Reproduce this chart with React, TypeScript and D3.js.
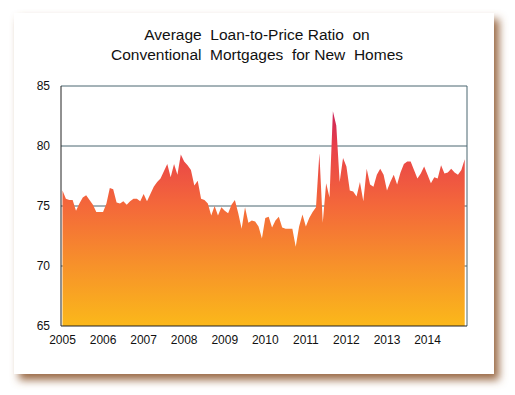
import React from "react";
import * as d3 from "d3";

// monthly values, Jan 2005 .. Dec 2014
const ratio2005 = [76.3, 75.6, 75.5, 75.5, 74.6, 75.2, 75.7, 75.9, 75.5, 75.1, 74.5, 74.5];
const ratio2006 = [74.5, 75.2, 76.5, 76.4, 75.3, 75.2, 75.4, 75.1, 75.4, 75.6, 75.6, 75.4];
const ratio2007 = [76.0, 75.4, 76.0, 76.6, 77.0, 77.3, 77.9, 78.5, 77.4, 78.5, 77.6, 79.3];
const ratio2008 = [78.7, 78.4, 78.0, 76.7, 77.1, 75.6, 75.5, 75.2, 74.2, 75.0, 74.2, 74.9];
const ratio2009 = [74.6, 74.4, 75.1, 75.5, 74.4, 73.1, 74.9, 73.6, 73.8, 73.7, 73.3, 72.3];
const ratio2010 = [74.0, 74.1, 73.2, 73.8, 74.1, 73.2, 73.1, 73.1, 73.1, 71.6, 73.3, 74.3];
const ratio2011 = [73.3, 74.0, 74.5, 74.9, 79.4, 73.6, 76.9, 75.7, 82.9, 81.7, 77.0, 79.0];
const ratio2012 = [78.3, 76.3, 76.2, 75.8, 77.0, 75.4, 78.1, 76.8, 76.6, 77.6, 78.1, 77.6];
const ratio2013 = [76.3, 77.0, 77.6, 76.8, 77.8, 78.5, 78.7, 78.7, 78.0, 77.3, 77.7, 78.3];
const ratio2014 = [77.6, 76.9, 77.4, 77.3, 78.4, 77.7, 77.8, 78.1, 77.8, 77.6, 78.0, 78.9];

const years = [2005, 2006, 2007, 2008, 2009, 2010, 2011, 2012, 2013, 2014];
const yTicks = [65, 70, 75, 80, 85];
const gridTicks = [70, 75, 80];
const titleLines = ["Average  Loan-to-Price Ratio  on", "Conventional  Mortgages  for New  Homes"];

const values = [
  ...ratio2005, ...ratio2006, ...ratio2007, ...ratio2008, ...ratio2009,
  ...ratio2010, ...ratio2011, ...ratio2012, ...ratio2013, ...ratio2014,
];
const data = values.map((v, i) => ({ t: 2005 + i / 12, v }));

const W = 515;
const H = 395;
const plot = { left: 61, right: 467, top: 86, bottom: 326 };

export default function App() {
  const x = d3.scaleLinear().domain([2005, 2015]).range([plot.left + 1.5, plot.left + 1.5 + 405.6 * 1.0]);
  const y = d3.scaleLinear().domain([65, 85]).range([plot.bottom, plot.top]);

  const area = d3
    .area<{ t: number; v: number }>()
    .x((d) => x(d.t))
    .y0(y(65))
    .y1((d) => y(d.v));

  const font = "Arial, 'Liberation Sans', sans-serif";

  return (
    <svg width={W} height={H} style={{ position: "absolute", left: 0, top: 0 }}>
      <defs>
        <filter id="shadow" x="-10%" y="-10%" width="125%" height="125%">
          <feGaussianBlur in="SourceAlpha" stdDeviation="4" />
          <feOffset dx="5" dy="6" result="b" />
          <feFlood floodColor="#9a6a45" />
          <feComposite in2="b" operator="in" />
          <feMerge>
            <feMergeNode />
            <feMergeNode in="SourceGraphic" />
          </feMerge>
        </filter>
        <linearGradient id="fill" gradientUnits="userSpaceOnUse" x1="0" x2="0" y1={y(84)} y2={y(65)}>
          <stop offset="0" stopColor="#c0185e" />
          <stop offset={String((y(80) - y(84)) / (y(65) - y(84)))} stopColor="#e8404a" />
          <stop offset={String((y(75) - y(84)) / (y(65) - y(84)))} stopColor="#f4683a" />
          <stop offset={String((y(70) - y(84)) / (y(65) - y(84)))} stopColor="#f7922a" />
          <stop offset="1" stopColor="#fbb81a" />
        </linearGradient>
      </defs>

      <rect x={14} y={13} width={480} height={361} fill="#fff" filter="url(#shadow)" />

      {titleLines.map((t, i) => (
        <text
          key={t}
          x={257}
          y={40 + i * 20}
          textAnchor="middle"
          fontFamily={font}
          fontSize={15.5}
          fill="#111"
          style={{ whiteSpace: "pre" }}
        >
          {t}
        </text>
      ))}

      {gridTicks.map((t) => (
        <line key={t} x1={plot.left} x2={plot.right} y1={y(t)} y2={y(t)} stroke="#4b6670" strokeWidth={1} />
      ))}

      <path d={area(data) ?? ""} fill="url(#fill)" />

      <line x1={plot.left} x2={plot.right} y1={plot.top} y2={plot.top} stroke="#4b6670" />
      <line x1={plot.right} x2={plot.right} y1={plot.top} y2={plot.bottom} stroke="#4b6670" />
      <line x1={plot.left} x2={plot.left} y1={plot.top} y2={plot.bottom} stroke="#222" />
      <line x1={plot.left} x2={plot.right} y1={plot.bottom} y2={plot.bottom} stroke="#222" />

      {yTicks.map((t) => (
        <text key={t} x={50} y={y(t) + 4} textAnchor="end" fontFamily={font} fontSize={12} fill="#111">
          {t}
        </text>
      ))}

      {years.map((yr) => (
        <text key={yr} x={x(yr)} y={344} textAnchor="middle" fontFamily={font} fontSize={12} fill="#111">
          {yr}
        </text>
      ))}
    </svg>
  );
}
